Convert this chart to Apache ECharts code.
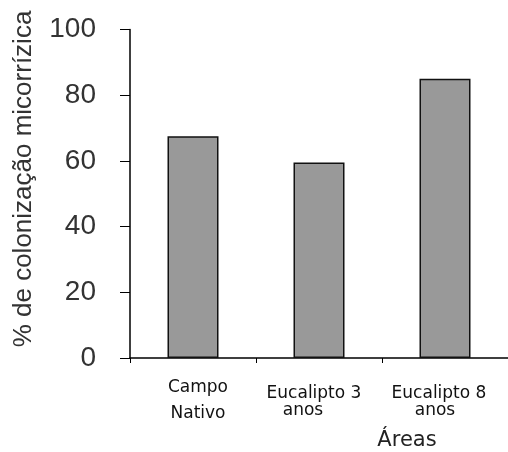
<!DOCTYPE html>
<html>
<head>
<meta charset="utf-8">
<script src="https://cdn.jsdelivr.net/npm/echarts@6/dist/echarts.min.js"></script>
<style>html,body{margin:0;padding:0;background:#fff}#c{width:508px;height:452px}</style>
</head>
<body>
<div id="c"></div>
<script>
var categories = ['Campo\nNativo', 'Eucalipto 3\nanos', 'Eucalipto 8\nanos'];
var values = [67.5, 59.5, 85];
var yTicks = [0, 20, 40, 60, 80, 100];
var yTitle = '% de colonização micorrízica';
var xTitle = 'Áreas';

var labelStyles = [
  {padding: [0, 0, 0, 10]},
  {padding: [10, 10, 0, 0]},
  {padding: [10, 12, 0, 0]}
];
var font = {fontFamily: 'DejaVu Sans', fontSize: 17, color: '#111'};
function tok(extra) { return Object.assign({}, font, extra); }

var chart = echarts.init(document.getElementById('c'), null, {renderer: 'canvas'});
chart.setOption({
  backgroundColor: '#ffffff',
  animation: false,
  grid: {left: 130, top: 29.5, bottom: 94, right: -8, containLabel: false},
  xAxis: {
    type: 'category',
    data: categories.map(function (c, i) { return {value: c, textStyle: labelStyles[i]}; }),
    axisLine: {lineStyle: {color: '#000', width: 1.5}},
    axisTick: {show: true, length: 5, inside: false, alignWithLabel: false, lineStyle: {color: '#000', width: 1}},
    axisLabel: {
      interval: 0, margin: 17, color: '#111', fontFamily: 'DejaVu Sans', fontSize: 17, align: 'center',
      formatter: function (v, i) {
        var p = v.split('\n');
        return '{a' + i + '|' + p[0] + '}\n{b' + i + '|' + p[1] + '}';
      },
      rich: {
        a0: tok({lineHeight: 26}), b0: tok({lineHeight: 26}),
        a1: tok({lineHeight: 17}), b1: tok({lineHeight: 17, padding: [0, 22, 0, 0]}),
        a2: tok({lineHeight: 17}), b2: tok({lineHeight: 17, padding: [0, 8, 0, 0]})
      }
    },
    splitLine: {show: false}
  },
  yAxis: {
    type: 'value',
    min: yTicks[0], max: yTicks[yTicks.length - 1], interval: 20,
    axisLine: {show: true, lineStyle: {color: '#000', width: 1.5}},
    axisTick: {show: true, length: 10, inside: false, lineStyle: {color: '#000', width: 1}},
    axisLabel: {margin: 34, color: '#333', fontFamily: '"Liberation Sans", Arial, sans-serif', fontSize: 28},
    splitLine: {show: false}
  },
  graphic: [
    {type: 'text', x: 24, y: 179, rotation: Math.PI / 2,
     style: {text: yTitle, fill: '#333', font: '26px "Liberation Sans", Arial, sans-serif', textAlign: 'center', textVerticalAlign: 'middle'}},
    {type: 'text', x: 407, y: 441,
     style: {text: xTitle, fill: '#222', font: '21px "DejaVu Sans", sans-serif', textAlign: 'center', textVerticalAlign: 'middle'}}
  ],
  series: [{
    type: 'bar',
    data: values,
    barWidth: 51,
    itemStyle: {color: '#999999', borderColor: '#111', borderWidth: 1.5}
  }]
});
</script>
</body>
</html>
